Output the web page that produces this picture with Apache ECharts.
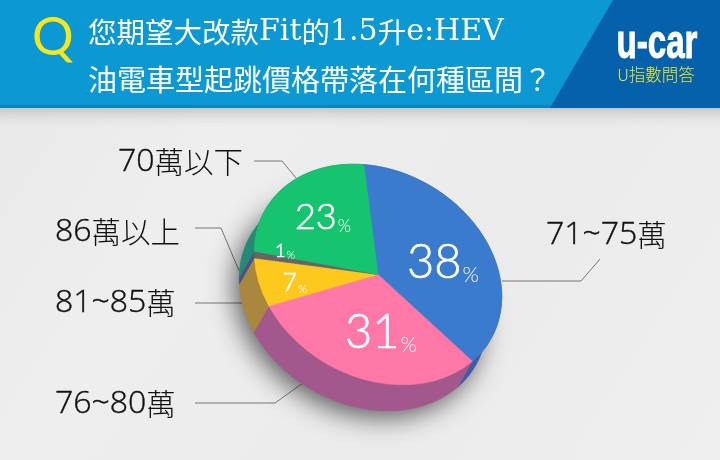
<!DOCTYPE html>
<html><head><meta charset="utf-8">
<style>html,body{margin:0;padding:0;background:#ececec}#c{width:720px;height:460px}</style>
<script src="https://cdn.jsdelivr.net/npm/echarts@6/dist/echarts.min.js"></script>
</head><body><div id="c"></div>
<script>
// data
const categories = ['71~75萬','76~80萬','81~85萬','86萬以上','70萬以下'];
const values = [38,31,7,1,23];
const titleLines = ['您期望大改款Fit的1.5升e:HEV','油電車型起跳價格帶落在何種區間？'];
// style
const topColors  = ['#3b7bce','#fd78a6','#fec91f','#656565','#16c46f'];
const sideColors = ['#3d5ba6','#a2588c','#a9873f','#4f4f86','#238a78'];
const deg = Math.PI/180;
const P = {cx:378,cy:274.5,a:130,b:103,tilt:30*deg,start:-121.1,dx:-15,dy:26};
// value label layout: offset from pie centre, number size, percent size
const valueLabels = [
  {dx:65,dy:-12,n:47,p:21},{dx:3,dy:58,n:47,p:21},{dx:-83,dy:8,n:25,p:12},
  {dx:-93,dy:-23,n:18,p:11},{dx:-55,dy:-57,n:36,p:17}
];
const total = values.reduce((s,v)=>s+v,0);
function angles(idx){
  let s = P.start;
  for(let i=0;i<idx;i++) s += values[i]/total*360;
  return [s, s+values[idx]/total*360];
}
function ptOnRim(t,ox,oy){
  const x=P.a*Math.cos(t), y=P.b*Math.sin(t);
  return [P.cx+ox+x*Math.cos(P.tilt)-y*Math.sin(P.tilt), P.cy+oy+x*Math.sin(P.tilt)+y*Math.cos(P.tilt)];
}
const seriesData = categories.map((c,i)=>({name:c,value:values[i]}));
function sideItem(params,api){
  const i=params.dataIndex; const [s,e]=angles(i);
  const top=[],bot=[];
  const steps=Math.max(4,Math.ceil((e-s)/2));
  for(let k=0;k<=steps;k++){
    const t=(s+(e-s)*k/steps)*deg;
    top.push(ptOnRim(t,0,0)); bot.unshift(ptOnRim(t,P.dx,P.dy));
  }
  const kids=[];
  if(i===0){
    kids.push({type:'circle',x:P.cx+P.dx,y:P.cy+P.dy,rotation:-P.tilt,scaleX:P.a/100,scaleY:P.b/100,
      shape:{cx:0,cy:0,r:100},
      style:{fill:'#888',shadowBlur:26,shadowColor:'rgba(0,0,0,0.6)',shadowOffsetX:-5,shadowOffsetY:7}});
  }
  kids.push({type:'polygon',shape:{points:top.concat(bot)},
    style:{fill:sideColors[i],stroke:sideColors[i],lineWidth:0.5}});
  return {type:'group',children:kids};
}
function faceItem(params,api){
  const i=params.dataIndex; const [s,e]=angles(i);
  const L=valueLabels[i];
  return {type:'group',children:[
    {type:'sector',x:P.cx,y:P.cy,rotation:-P.tilt,scaleX:P.a/100,scaleY:P.b/100,
     shape:{cx:0,cy:0,r0:0,r:100,startAngle:s*deg,endAngle:e*deg,clockwise:true},
     style:{fill:topColors[i],stroke:topColors[i],lineWidth:0.4}},
    {type:'text',x:P.cx+L.dx,y:P.cy+L.dy,z2:10,
     style:{text:'{n|'+api.value(0)+'}{p|%}',align:'center',verticalAlign:'middle',
       rich:{n:{fontFamily:'Lato',fontWeight:300,fontSize:L.n,fill:'#fff',color:'#fff',stroke:'#fff',lineWidth:0.6},
             p:{fontFamily:'Lato',fontWeight:300,fontSize:L.p,fill:'#fff',color:'#fff',verticalAlign:'bottom',padding:[0,0,0,1]}}}}
  ]};
}
const lineStyle={stroke:'#777',lineWidth:1,fill:null};
const leader=pts=>({type:'polyline',shape:{points:pts},style:lineStyle,z:3});
const catRich={
  d:{fontFamily:'"Open Sans"',fontWeight:300,fontSize:32,fill:'#111',color:'#111',stroke:'#111',lineWidth:0.4,lineHeight:36},
  c:{fontFamily:'"Noto Sans CJK TC"',fontWeight:300,fontSize:29.5,fill:'#111',color:'#111',lineHeight:36}
};
const catText=(t,x,y)=>({type:'text',x:x,y:y,z:3,style:{
  text:t.replace(/[0-9~]+/g,m=>'{d|'+m+'}').replace(/[^{}|d0-9~]+/g,m=>'{c|'+m+'}'),
  rich:catRich,verticalAlign:'middle'}});
// title: Latin runs in a wide serif, CJK runs in the CJK face
const titleRich={
  l:{fontFamily:'"DejaVu Serif"',fontSize:30,fill:'#fff',color:'#fff'},
  c:{fontFamily:'"Noto Sans CJK TC"',fontSize:28.5,fill:'#fff',color:'#fff'}
};
const titleMarkup=t=>t.replace(/[A-Za-z0-9.:]+/g,m=>'\u0001'+m+'\u0002').split(/(\u0001[^\u0002]*\u0002)/)
  .map(s=>s.startsWith('\u0001')?'{l|'+s.slice(1,-1)+'}':(s?'{c|'+s+'}':'')).join('');
const chart=echarts.init(document.getElementById('c'),null,{renderer:'canvas'});
chart.setOption({
  animation:false,
  graphic:[
    {type:'rect',z:0,shape:{x:0,y:0,width:720,height:460},style:{fill:new echarts.graphic.LinearGradient(0,0,1,1,[
      {offset:0,color:'#e8e8e8'},{offset:0.3,color:'#eeeeee'},{offset:0.65,color:'#ebebeb'},{offset:1,color:'#efefef'}])}},
    {type:'rect',z:0,shape:{x:0,y:108,width:720,height:22},style:{fill:new echarts.graphic.LinearGradient(0,0,0,1,[
      {offset:0,color:'rgba(190,190,190,0.8)'},{offset:1,color:'rgba(235,235,235,0)'}])}},
    {type:'rect',z:1,shape:{x:0,y:0,width:720,height:106},style:{fill:'#0c98d2'}},
    {type:'rect',z:1,shape:{x:0,y:105,width:720,height:3},style:{fill:'#0a85bd'}},
    {type:'polygon',z:1,shape:{points:[[613,0],[720,0],[720,108],[550,108]]},style:{fill:'#0561ac'}},
    {type:'text',z:2,x:32,y:12,style:{text:'Q',fontFamily:'Lato',fontWeight:400,fontSize:52,fill:'#f7e61b'}},
    {type:'text',z:2,x:88,y:32,style:{text:titleMarkup(titleLines[0]),rich:titleRich,verticalAlign:'middle'}},
    {type:'text',z:2,x:88,y:80,style:{text:titleLines[1],verticalAlign:'middle',fontFamily:'"Noto Sans CJK TC"',fontSize:29,fontWeight:400,fill:'#fff'}},
    {type:'text',z:2,x:657,y:45,scaleX:0.69,style:{text:'u-car',align:'center',verticalAlign:'middle',fontFamily:'"Liberation Sans"',fontWeight:700,fontSize:48,fill:'#fff',stroke:'#fff',lineWidth:1}},
    {type:'text',z:2,x:656,y:75,style:{text:'U指數問答',align:'center',verticalAlign:'middle',fontFamily:'"Noto Sans CJK TC"',fontWeight:300,fontSize:16.5,fill:'#f2e72a'}},
    leader([[502,281],[581,281],[600,259]]),
    leader([[254,161],[282,161],[296,178]]),
    leader([[195,228],[221,228],[240,273]]),
    leader([[195,303],[243,303]]),
    leader([[195,403],[275,403],[303,383]]),
    catText(categories[0],546,235),
    catText(categories[4],118,162),
    catText(categories[3],55,232),
    catText(categories[2],55,303),
    catText(categories[1],55,404)
  ],
  series:[
    {type:'custom',coordinateSystem:'none',z:4,data:seriesData,renderItem:sideItem,silent:true,clip:false,
     encode:{value:0}},
    {type:'custom',coordinateSystem:'none',z:5,data:seriesData,renderItem:faceItem,silent:true,clip:false,
     encode:{value:0}}
  ]
});
</script></body></html>
